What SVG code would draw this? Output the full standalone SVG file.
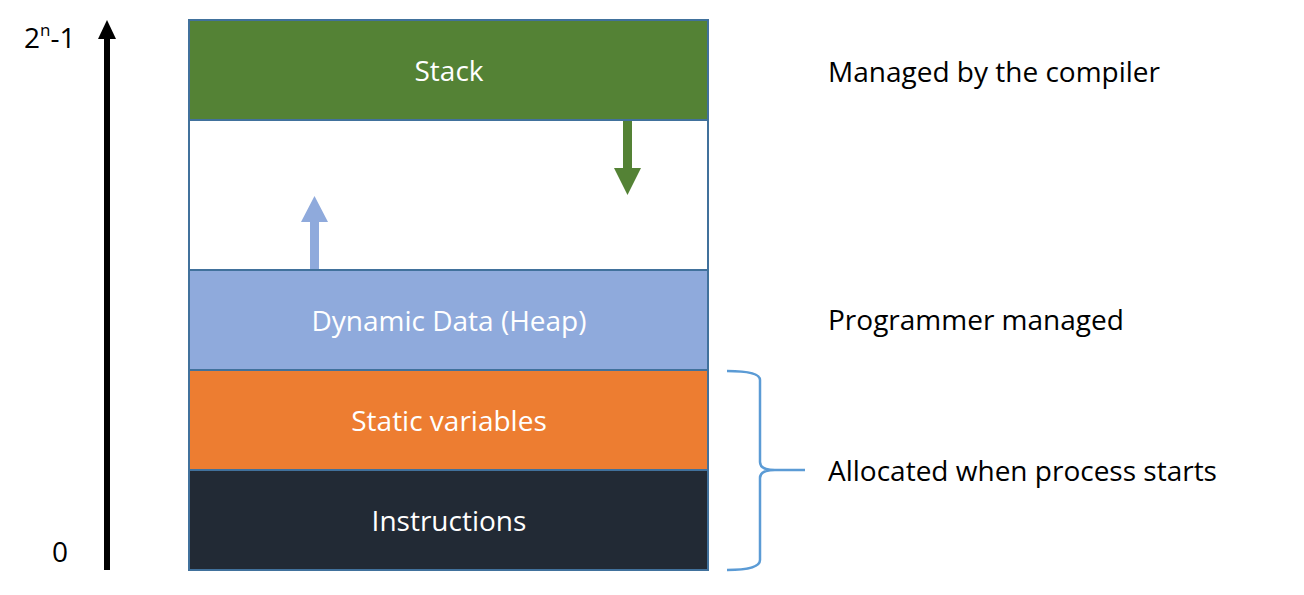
<svg xmlns="http://www.w3.org/2000/svg" width="1304" height="595" viewBox="0 0 1304 595">
<style>
text{font-family:"Open Sans","Liberation Sans",sans-serif;font-size:28px}
.lbl{fill:#fff;text-anchor:middle}
.blk{stroke:#41719c;stroke-width:2}
</style>
<defs>
<marker id="ah" markerWidth="6" markerHeight="6" refX="3" refY="0" viewBox="0 0 6 6" orient="auto" markerUnits="userSpaceOnUse"/>
</defs>
<rect width="1304" height="595" fill="#fff"/>
<g id="stack"><rect class="blk" x="189" y="20" width="519" height="100" fill="#548235"/><text class="lbl" x="449" y="81">Stack</text></g>
<g id="free"><rect class="blk" x="189" y="120" width="519" height="150" fill="#fff"/></g>
<g id="heap"><rect class="blk" x="189" y="270" width="519" height="100" fill="#8faadc"/><text class="lbl" x="449" y="331">Dynamic Data (Heap)</text></g>
<g id="static"><rect class="blk" x="189" y="370" width="519" height="100" fill="#ed7d31"/><text class="lbl" x="449" y="431">Static variables</text></g>
<g id="instr"><rect class="blk" x="189" y="470" width="519" height="100" fill="#222a35"/><text class="lbl" x="449" y="531">Instructions</text></g>
<g id="connectors">
<polygon points="623,121 632,121 632,168 641,168 627.5,195 614,168 623,168" fill="#548235"/>
<polygon points="310,269 319,269 319,222 328,222 314.5,196 301,222 310,222" fill="#8faadc"/>
<line x1="107" y1="570" x2="107" y2="36" stroke="#000" stroke-width="6"/>
<polygon points="107,20 116,39 98,39" fill="#000"/>
<path d="M727,371 Q760,371 760,380 L760,462 Q760,470 775,470 L805,470 M775,470 Q760,470 760,478 L760,560 Q760,570 727,570" fill="none" stroke="#5b9bd5" stroke-width="2.5"/>
</g>
<g id="labels">
<text x="24" y="48">2<tspan font-size="17" dy="-12">n</tspan><tspan dy="12">-1</tspan></text>
<text x="52" y="562">0</text>
<text x="828" y="82">Managed by the compiler</text>
<text x="828" y="330">Programmer managed</text>
<text x="828" y="481">Allocated when process starts</text>
</g>
</svg>
